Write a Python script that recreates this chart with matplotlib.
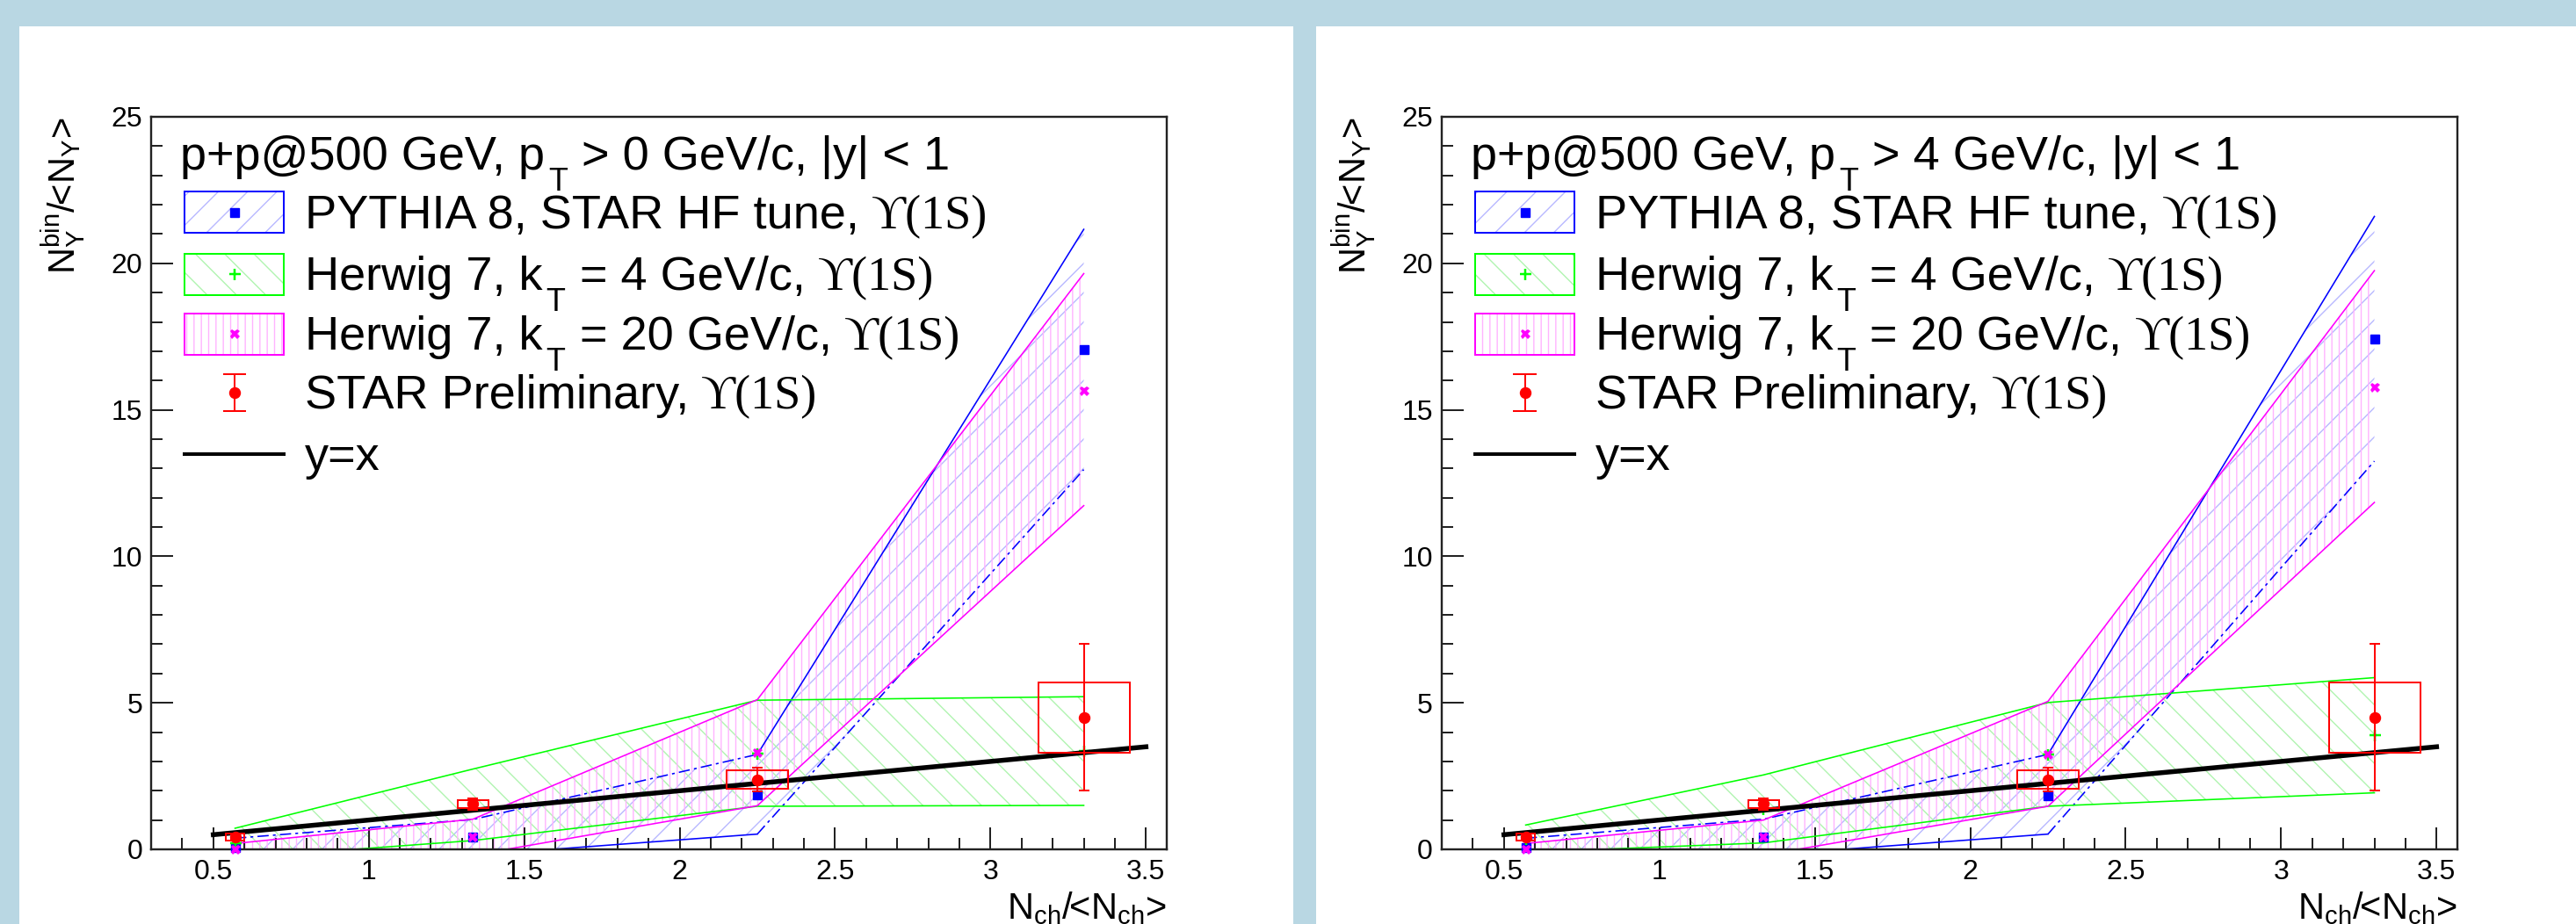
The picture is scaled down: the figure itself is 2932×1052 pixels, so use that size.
import numpy as np
import matplotlib
matplotlib.use("Agg")
import matplotlib.pyplot as plt
from matplotlib.patches import Rectangle
from matplotlib.lines import Line2D
from matplotlib.ticker import MultipleLocator, FuncFormatter

plt.rcParams["font.family"] = ["Liberation Sans", "DejaVu Sans"]
plt.rcParams["mathtext.fontset"] = "custom"
plt.rcParams["mathtext.rm"] = "Liberation Sans"
plt.rcParams["mathtext.it"] = "Liberation Sans:italic"
plt.rcParams["mathtext.default"] = "regular"
plt.rcParams["hatch.linewidth"] = 1.0

# ---- data ----
x_pts = [0.57, 1.335, 2.25, 3.30]

star_y = [0.42, 1.55, 2.38, 4.50]
star_stat = [0.10, 0.19, 0.40, 2.50]
star_sys = [0.12, 0.14, 0.32, 1.20]
star_dx = [0.03, 0.05, 0.10, 0.147]

yx_x = [0.5, 3.5]
yx_y = [0.5, 3.5]

# p_T > 0
pythia_mid_a = [0.05, 0.42, 1.85, 17.05]
pythia_hi_a = [0.38, 1.02, 3.24, 21.16]
pythia_lo_a = [-0.10, -0.20, 0.52, 12.96]
h4_mid_a = [0.20, 1.52, 3.28, 3.36]
h4_hi_a = [0.72, 2.74, 5.09, 5.21]
h4_lo_a = [-0.30, 0.30, 1.47, 1.50]
h20_mid_a = [0.00, 0.42, 3.30, 15.66]
h20_hi_a = [0.20, 1.03, 5.11, 19.65]
h20_lo_a = [-0.20, -0.20, 1.49, 11.73]

# p_T > 4
pythia_mid_b = [0.05, 0.42, 1.83, 17.43]
pythia_hi_b = [0.38, 1.03, 3.24, 21.60]
pythia_lo_b = [-0.10, -0.20, 0.52, 13.25]
h4_mid_b = [0.35, 1.38, 3.24, 3.90]
h4_hi_b = [0.83, 2.54, 5.01, 5.86]
h4_lo_b = [-0.10, 0.22, 1.47, 1.93]
h20_mid_b = [0.00, 0.42, 3.24, 15.78]
h20_hi_b = [0.20, 1.00, 5.05, 19.75]
h20_lo_b = [-0.20, -0.20, 1.47, 11.84]

headers = ["> 0 GeV/c, |y| < 1", "> 4 GeV/c, |y| < 1"]

# ---- style ----
W, H, DPI = 2932, 1052, 100
PT = 72.0 / DPI
BLUE, GREEN, MAG, RED = "#0000FF", "#00FF00", "#FF00FF", "#FF0000"
BLUE_H, GREEN_H, MAG_H = "#B8B8FF", "#B0F4B0", "#FFB4FF"
SERIF = ["Liberation Serif", "DejaVu Serif"]
FS_LEG, FS_SUB, FS_TICK = 39, 26, 23
DASHDOT = (0, (8, 3, 2, 3))

fig = plt.figure(figsize=(W / DPI, H / DPI), dpi=DPI, facecolor="#B9D7E3")
renderer = fig.canvas.get_renderer()


def fx(px):
    return px / W


def fy(py):
    return 1 - py / H


def put(x, y, s, size, family=None):
    kw = {"family": family} if family else {}
    t = fig.text(fx(x), fy(y), s, fontsize=size, va="baseline", ha="left", **kw)
    return t.get_window_extent(renderer).x1


def sub_line(x, y, before, after, ups=True):
    x = put(x, y, before, FS_LEG)
    x = put(x + 4, y + 24, "T", FS_SUB)
    x = put(x + 16, y, after, FS_LEG)
    if ups:
        put(x + 14, y, "ϒ(1S)", FS_LEG, SERIF)


def panel(left, wl, wr, head, py_mid, py_hi, py_lo, h4_mid, h4_hi, h4_lo,
          h20_mid, h20_hi, h20_lo):
    fig.add_artist(Rectangle((fx(wl), 0), (wr - wl) / W, (H - 30) / H,
                             transform=fig.transFigure, facecolor="white",
                             edgecolor="none", zorder=-10))
    ax = fig.add_axes([fx(left), fy(967), 1156 / W, 834 / H])
    ax.set_xlim(0.3, 3.567)
    ax.set_ylim(0, 25)

    ax.fill_between(x_pts, py_lo, py_hi, facecolor="none", edgecolor=BLUE_H,
                    hatch="/", linewidth=0, zorder=1)
    ax.fill_between(x_pts, h4_lo, h4_hi, facecolor="none", edgecolor=GREEN_H,
                    hatch="\\", linewidth=0, zorder=1)
    ax.fill_between(x_pts, h20_lo, h20_hi, facecolor="none", edgecolor=MAG_H,
                    hatch="||", linewidth=0, zorder=1)

    lw = 1.6 * PT
    # PYTHIA outline changes style at the third point
    ax.plot(x_pts[:3], py_hi[:3], color=BLUE, lw=lw, ls=DASHDOT, zorder=2)
    ax.plot(x_pts[2:], py_hi[2:], color=BLUE, lw=lw, zorder=2)
    ax.plot(x_pts[:3], py_lo[:3], color=BLUE, lw=lw, zorder=2)
    ax.plot(x_pts[2:], py_lo[2:], color=BLUE, lw=lw, ls=DASHDOT, zorder=2)
    ax.plot(x_pts, h4_hi, color=GREEN, lw=lw, zorder=2)
    ax.plot(x_pts, h4_lo, color=GREEN, lw=lw, zorder=2)
    ax.plot(x_pts, h20_hi, color=MAG, lw=lw, zorder=2)
    ax.plot(x_pts, h20_lo, color=MAG, lw=lw, zorder=2)

    ax.plot(x_pts, py_mid, "s", color=BLUE, ms=10 * PT, zorder=3, clip_on=False)
    ax.plot(x_pts, h4_mid, "+", color=GREEN, ms=13 * PT, mew=2.5 * PT, zorder=3, clip_on=False)
    ax.plot(x_pts, h20_mid, "X", color=MAG, ms=11 * PT, mew=0, zorder=3, clip_on=False)

    ax.plot(yx_x, yx_y, color="black", lw=5.5 * PT, zorder=4)

    for xi, yi, dx, sy in zip(x_pts, star_y, star_dx, star_sys):
        ax.add_patch(Rectangle((xi - dx, yi - sy), 2 * dx, 2 * sy, fill=False,
                               edgecolor=RED, lw=2 * PT, zorder=5))
    ax.errorbar(x_pts, star_y, yerr=star_stat, fmt="o", color=RED, ms=12 * PT,
                capsize=6 * PT, elinewidth=2 * PT, capthick=2 * PT, zorder=6)

    # axes look (ROOT style)
    for s in ax.spines.values():
        s.set_linewidth(2.4 * PT)
        s.set_color("#222222")
    ax.xaxis.set_major_locator(MultipleLocator(0.5))
    ax.xaxis.set_minor_locator(MultipleLocator(0.1))
    ax.yaxis.set_major_locator(MultipleLocator(5))
    ax.yaxis.set_minor_locator(MultipleLocator(1))
    ax.xaxis.set_major_formatter(FuncFormatter(lambda v, p: "%g" % v))
    ax.tick_params(which="both", direction="in", top=False, right=False,
                   width=2 * PT, color="#222222", labelsize=FS_TICK)
    ax.tick_params(which="major", length=25 * PT)
    ax.tick_params(which="minor", length=13 * PT)
    ax.tick_params(axis="x", pad=11 * PT)
    ax.tick_params(axis="y", pad=10 * PT)

    fig.text(fx(left - 87), fy(133), r"N$^{bin}_{\Upsilon}$/<N$_{\Upsilon}$>",
             rotation=90, rotation_mode="anchor", ha="right", va="baseline",
             fontsize=30)
    fig.text(fx(left + 1156), fy(1046), r"N$_{ch}$/<N$_{ch}$>",
             ha="right", va="baseline", fontsize=30)

    # legend, drawn by hand like the ROOT TLegend
    sub_line(left + 33, 193, "p+p@500 GeV, p", head, ups=False)
    rows = [242, 312, 380, 447, 517]
    bx0, bx1 = left + 38, left + 151
    bxc = (bx0 + bx1) / 2
    for r, hc, ec, hatch in zip(rows[:3], [BLUE_H, GREEN_H, MAG_H],
                                [BLUE, GREEN, MAG], ["/", "\\", "||"]):
        fig.add_artist(Rectangle((fx(bx0), fy(r + 23.5)), (bx1 - bx0) / W, 47 / H,
                                 transform=fig.transFigure, facecolor="none",
                                 edgecolor=hc, hatch=hatch, lw=0))
        fig.add_artist(Rectangle((fx(bx0), fy(r + 23.5)), (bx1 - bx0) / W, 47 / H,
                                 transform=fig.transFigure, facecolor="none",
                                 edgecolor=ec, lw=2 * PT))
    fig.add_artist(Line2D([fx(bxc)], [fy(rows[0])], transform=fig.transFigure,
                          marker="s", color=BLUE, ms=10 * PT, ls="none"))
    fig.add_artist(Line2D([fx(bxc)], [fy(rows[1])], transform=fig.transFigure,
                          marker="+", color=GREEN, ms=13 * PT, mew=2.5 * PT, ls="none"))
    fig.add_artist(Line2D([fx(bxc)], [fy(rows[2])], transform=fig.transFigure,
                          marker="X", color=MAG, ms=11 * PT, mew=0, ls="none"))
    # STAR symbol
    fig.add_artist(Line2D([fx(bxc)] * 2, [fy(rows[3] - 21), fy(rows[3] + 21)],
                          transform=fig.transFigure, color=RED, lw=2 * PT))
    for dy in (-21, 21):
        fig.add_artist(Line2D([fx(bxc - 12), fx(bxc + 12)], [fy(rows[3] + dy)] * 2,
                              transform=fig.transFigure, color=RED, lw=2 * PT))
    fig.add_artist(Line2D([fx(bxc)], [fy(rows[3])], transform=fig.transFigure,
                          marker="o", color=RED, ms=12 * PT, ls="none"))
    fig.add_artist(Line2D([fx(bx0), fx(bx1)], [fy(rows[4])] * 2,
                          transform=fig.transFigure, color="black", lw=4 * PT))

    tx = left + 175
    xe = put(tx, rows[0] + 18, "PYTHIA 8, STAR HF tune,", FS_LEG)
    put(xe + 14, rows[0] + 18, "ϒ(1S)", FS_LEG, SERIF)
    sub_line(tx, rows[1] + 18, "Herwig 7, k", "= 4 GeV/c,")
    sub_line(tx, rows[2] + 18, "Herwig 7, k", "= 20 GeV/c,")
    xe = put(tx, rows[3] + 18, "STAR Preliminary,", FS_LEG)
    put(xe + 14, rows[3] + 18, "ϒ(1S)", FS_LEG, SERIF)
    put(tx, rows[4] + 18, "y=x", FS_LEG)
    return ax


panel(172, 22, 1472, headers[0], pythia_mid_a, pythia_hi_a, pythia_lo_a,
      h4_mid_a, h4_hi_a, h4_lo_a, h20_mid_a, h20_hi_a, h20_lo_a)
panel(1641, 1498, 2932, headers[1], pythia_mid_b, pythia_hi_b, pythia_lo_b,
      h4_mid_b, h4_hi_b, h4_lo_b, h20_mid_b, h20_hi_b, h20_lo_b)

fig.savefig("out.png", dpi=DPI, facecolor=fig.get_facecolor())
